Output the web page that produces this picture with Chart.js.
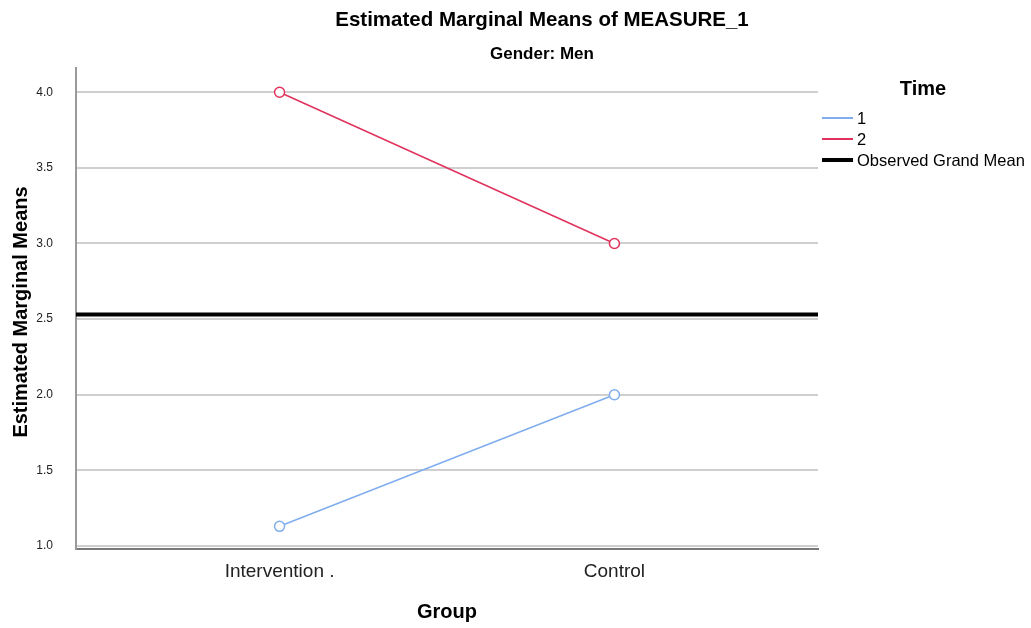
<!DOCTYPE html>
<html>
<head>
<meta charset="utf-8">
<script src="https://cdn.jsdelivr.net/npm/chart.js@4/dist/chart.umd.min.js"></script>
<style>
  html, body { margin: 0; padding: 0; background: #fff; }
  #wrap { width: 1031px; height: 628px; position: relative; }
</style>
</head>
<body>
<div id="wrap"><canvas id="c" width="1031" height="628"></canvas></div>
<script>
// ---- data ----
const groups = ["Intervention .", "Control"];
const time1 = [1.13, 2.0];
const time2 = [4.0, 3.0];
const grandMean = 2.53;
const yTicks = [1.0, 1.5, 2.0, 2.5, 3.0, 3.5, 4.0];
const seriesNames = ["1", "2", "Observed Grand Mean"];
const titleText = "Estimated Marginal Means of MEASURE_1";
const subtitleText = "Gender: Men";
const legendTitle = "Time";
const xTitle = "Group";
const yTitle = "Estimated Marginal Means";

const X_MIN = -0.608, X_MAX = 1.608;
const BLUE = "#7fadee", RED = "#e0325c";
const FONT = "'Liberation Sans', Arial, sans-serif";

const toPts = arr => arr.map((v, i) => ({ x: i, y: v }));

const decor = {
  id: 'decor',
  afterDraw(chart) {
    const ctx = chart.ctx;
    ctx.save();
    ctx.fillStyle = '#000';
    ctx.textAlign = 'center';
    ctx.textBaseline = 'middle';
    ctx.font = "bold 20.5px " + FONT;
    ctx.fillText(titleText, 542, 20);
    ctx.font = "bold 17px " + FONT;
    ctx.fillText(subtitleText, 542, 54);
    ctx.font = "bold 20px " + FONT;
    ctx.fillText(xTitle, 447, 612);
    ctx.save();
    ctx.translate(21, 312);
    ctx.rotate(-Math.PI / 2);
    ctx.fillText(yTitle, 0, 0);
    ctx.restore();
    // legend
    ctx.font = "bold 20px " + FONT;
    ctx.fillText(legendTitle, 923, 89);
    const items = [
      { name: seriesNames[0], color: BLUE, w: 2, y: 118 },
      { name: seriesNames[1], color: RED, w: 2, y: 139 },
      { name: seriesNames[2], color: '#000', w: 4, y: 160 }
    ];
    ctx.textAlign = 'left';
    ctx.font = "16.5px " + FONT;
    items.forEach(it => {
      ctx.strokeStyle = it.color;
      ctx.lineWidth = it.w;
      ctx.beginPath();
      ctx.moveTo(822, it.y);
      ctx.lineTo(853, it.y);
      ctx.stroke();
      ctx.fillStyle = '#000';
      ctx.fillText(it.name, 857, it.y + 1);
    });
    ctx.restore();
  }
};

new Chart(document.getElementById('c'), {
  type: 'line',
  data: {
    datasets: [
      {
        label: seriesNames[2],
        data: [{ x: X_MIN, y: grandMean }, { x: X_MAX, y: grandMean }],
        borderColor: '#000', borderWidth: 4, pointRadius: 0, order: 3
      },
      {
        label: seriesNames[0],
        data: toPts(time1),
        borderColor: BLUE, borderWidth: 1.5,
        pointRadius: 5, pointBorderWidth: 1.5,
        pointBorderColor: BLUE, pointBackgroundColor: '#fff', order: 1
      },
      {
        label: seriesNames[1],
        data: toPts(time2),
        borderColor: RED, borderWidth: 1.5,
        pointRadius: 5, pointBorderWidth: 1.5,
        pointBorderColor: RED, pointBackgroundColor: '#fff', order: 2
      }
    ]
  },
  options: {
    responsive: false,
    animation: false,
    devicePixelRatio: 1,
    layout: { padding: { left: 0, top: 68, right: 213, bottom: 0 } },
    plugins: { legend: { display: false }, tooltip: { enabled: false }, title: { display: false } },
    scales: {
      x: {
        type: 'linear', min: X_MIN, max: X_MAX,
        afterBuildTicks(scale) { scale.ticks = groups.map((g, i) => ({ value: i })); },
        afterFit(scale) { scale.height = 79; },
        ticks: {
          callback: (v) => groups[v],
          font: { family: FONT, size: 19 }, color: '#222', padding: 11, maxRotation: 0, autoSkip: false
        },
        grid: { display: false, drawTicks: false },
        border: { display: true, color: '#7a7a7a', width: 2 }
      },
      y: {
        min: 0.98, max: 4.16,
        afterBuildTicks(scale) { scale.ticks = yTicks.map(v => ({ value: v })); },
        afterFit(scale) { scale.width = 76; },
        ticks: {
          callback: (v) => v.toFixed(1),
          font: { family: FONT, size: 12 }, color: '#222', padding: 23
        },
        grid: { color: '#cfcfcf', lineWidth: 2, drawTicks: false },
        border: { display: true, color: '#9a9a9a', width: 2 }
      }
    }
  },
  plugins: [decor]
});
</script>
</body>
</html>
